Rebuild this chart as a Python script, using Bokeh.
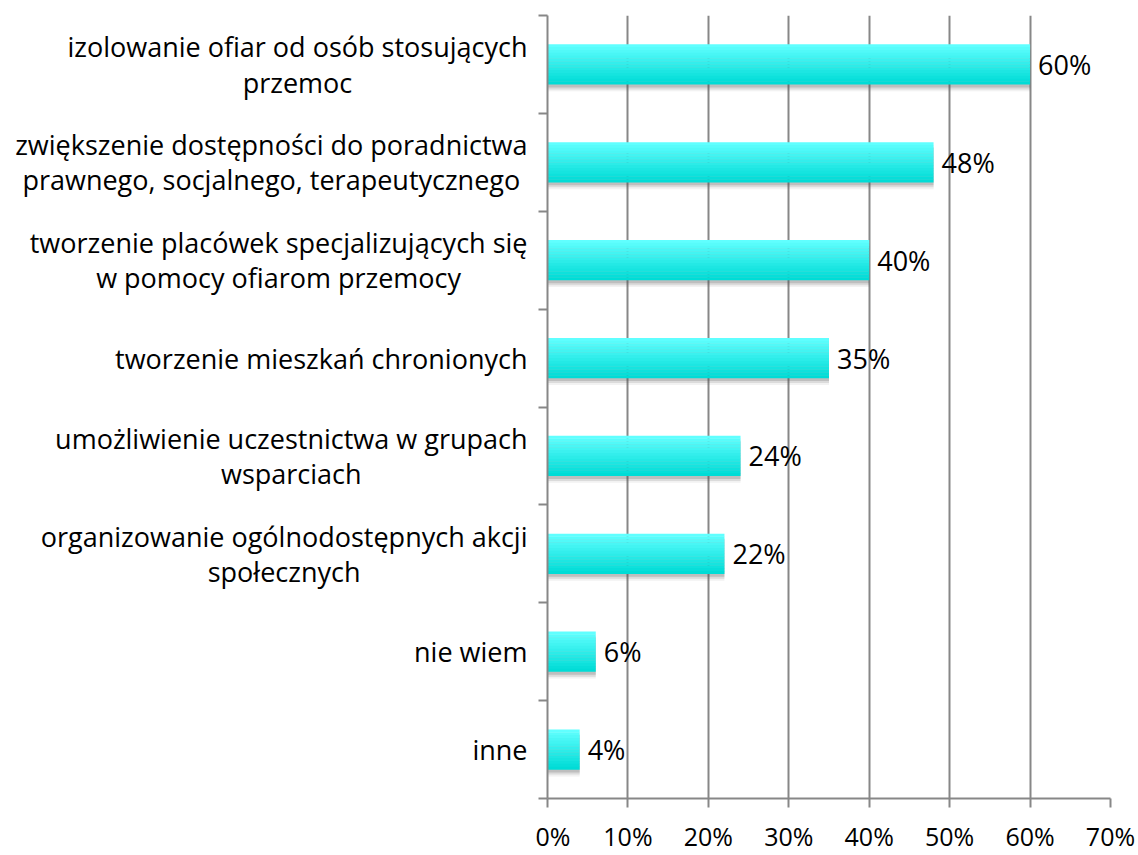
import glob
import subprocess
import numpy as np
from bokeh.plotting import figure
from bokeh.layouts import row
from bokeh.models import (ColumnDataSource, Range1d, LinearAxis,
                          FixedTicker, PrintfTickFormatter, LabelSet)
from bokeh.core.properties import value
from bokeh.transform import dodge
from bokeh.embed import file_html
from bokeh.resources import INLINE

categories = [
    "izolowanie ofiar od osób stosujących\nprzemoc",
    "zwiększenie dostępności do poradnictwa\nprawnego, socjalnego, terapeutycznego",
    "tworzenie placówek specjalizujących się\nw pomocy ofiarom przemocy",
    "tworzenie mieszkań chronionych",
    "umożliwienie uczestnictwa w grupach\nwsparciach",
    "organizowanie ogólnodostępnych akcji\nspołecznych",
    "nie wiem",
    "inne",
]
values = [60, 48, 40, 35, 24, 22, 6, 4]
value_labels = ["60%", "48%", "40%", "35%", "24%", "22%", "6%", "4%"]
x_ticks = [0, 10, 20, 30, 40, 50, 60, 70]

FONT = "Open Sans"
CAT_PX = 27
CAT_FS = "%dpx" % CAT_PX
VAL_FS = "27px"
TICK_FS = "25px"
GRID = "#878787"
LABEL_GAP = 8   # px between category text block and the label panel edge
LEFT_W = 535    # width of label panel
MAIN_W = 1138 - LEFT_W
AX_PAD = 12     # room for left ticks in the main figure
TOP = 15
BOTTOM = 52
H = 855


def _font_path(name):
    try:
        out = subprocess.run(["fc-match", "-f", "%{file}", name], capture_output=True,
                             text=True, timeout=5).stdout.strip()
        if out:
            return out
    except Exception:
        pass
    c = glob.glob("/usr/share/fonts/**/OpenSans*.ttf", recursive=True)
    return c[0] if c else None


def _text_width(s, size):
    try:
        from PIL import ImageFont
        f = ImageFont.truetype(_font_path(FONT), size)
        return f.getlength(s)
    except Exception:
        return len(s) * 0.52 * size


block_w = [max(_text_width(ln, CAT_PX) for ln in c.split("\n")) for c in categories]
label_x = [LEFT_W - LABEL_GAP - w / 2.0 for w in block_w]

n = len(categories)
pos = [n - 1 - i for i in range(n)]  # first category at top
src = ColumnDataSource(dict(pos=pos, val=values, lab=value_labels, cat=categories, lx=label_x))
yr = Range1d(-0.5, n - 0.5)

# ---- label panel
lp = figure(width=LEFT_W, height=H, output_backend="svg", toolbar_location=None,
            y_range=yr, x_range=Range1d(0, LEFT_W), x_axis_location=None, y_axis_location=None,
            min_border_left=0, min_border_right=0, min_border_top=TOP, min_border_bottom=BOTTOM)
lp.outline_line_color = None
lp.grid.grid_line_color = None
lp.text(x="lx", y="pos", text="cat", source=src, text_align="center", text_baseline="middle",
        text_font=value(FONT), text_font_size=CAT_FS, text_color="black", text_line_height=0.95)

# ---- main chart
p = figure(width=MAIN_W, height=H, output_backend="svg", toolbar_location=None,
           y_range=yr, x_range=Range1d(0, 70),
           x_axis_location=None, y_axis_location=None,
           min_border_left=AX_PAD, min_border_right=28, min_border_top=TOP, min_border_bottom=BOTTOM)
p.outline_line_color = None
p.background_fill_color = "white"
p.border_fill_color = "white"

xa = LinearAxis(ticker=FixedTicker(ticks=x_ticks), formatter=PrintfTickFormatter(format="%d%%"))
xa.axis_line_color = GRID
xa.axis_line_width = 2
xa.major_tick_line_color = GRID
xa.major_tick_line_width = 2
xa.major_tick_out = 9
xa.major_tick_in = 0
xa.minor_tick_line_color = None
xa.major_label_text_font = FONT
xa.major_label_text_font_size = TICK_FS
xa.major_label_text_color = "black"
xa.major_label_standoff = 11
p.add_layout(xa, "below")

p.xgrid.ticker = FixedTicker(ticks=x_ticks)
p.xgrid.grid_line_color = GRID
p.xgrid.grid_line_width = 2
p.ygrid.grid_line_color = None

ta = LinearAxis(ticker=FixedTicker(ticks=[k - 0.5 for k in range(n + 1)]))
ta.axis_line_color = GRID
ta.axis_line_width = 2
ta.major_tick_line_color = GRID
ta.major_tick_line_width = 2
ta.major_tick_out = 9
ta.major_tick_in = 0
ta.minor_tick_line_color = None
ta.major_label_text_font_size = "0px"
ta.major_label_text_color = None
ta.major_label_standoff = 0
p.add_layout(ta, "left")

BAR_H = 0.41
for off, extra, a in [(-0.055, 0.03, 0.08), (-0.05, 0.0, 0.15), (-0.045, -0.03, 0.22)]:
    p.hbar(y=dodge("pos", off), left=0, right="val", height=BAR_H + extra,
           source=src, fill_color="#555555", fill_alpha=a, line_color=None)

N = 14
top = np.array([0x60, 0xFF, 0xFF])
bot = np.array([0x00, 0xDC, 0xD6])
sh = BAR_H / N
for i in range(N):
    t = i / (N - 1)
    c = (top * (1 - t) + bot * t).astype(int)
    col = "#%02x%02x%02x" % tuple(c)
    off = BAR_H / 2 - (i + 0.5) * sh
    p.hbar(y=dodge("pos", off), left=0, right="val", height=sh * 1.08,
           source=src, fill_color=col, line_color=None)

labels = LabelSet(x="val", y="pos", text="lab", source=src, x_offset=8,
                  text_baseline="middle", text_font=value(FONT), text_font_size=VAL_FS,
                  text_color="black")
p.add_layout(labels)

layout = row(lp, p, spacing=0)
open("out.html", "w").write(file_html(layout, INLINE))
